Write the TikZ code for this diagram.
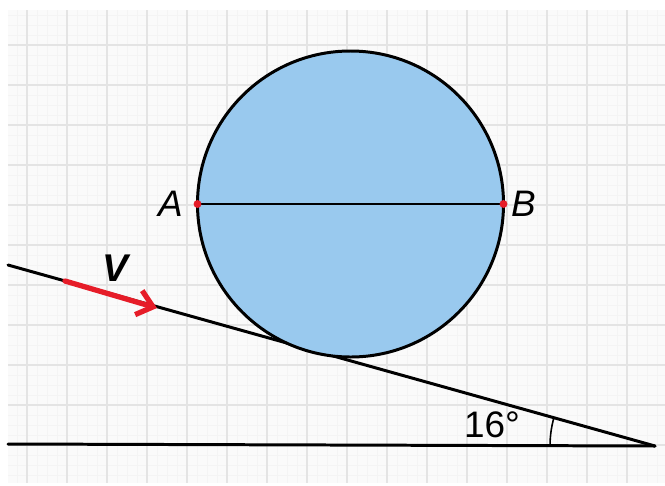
\documentclass[tikz,border=0pt]{standalone}
\usepackage{fontspec}
\setmainfont{Liberation Sans}
\usetikzlibrary{arrows.meta, positioning, calc}
\definecolor{discblue}{RGB}{153,201,238}
\definecolor{vred}{RGB}{230,28,40}
\definecolor{gridmajor}{RGB}{228,228,228}
\definecolor{gridminor}{RGB}{244,244,244}
\definecolor{paper}{RGB}{250,250,250}

\begin{document}
\begin{tikzpicture}[
    x=0.02cm, y=0.02cm,
    line/.style={draw=black, line width=1.7pt, line cap=round},
    disc/.style={draw=black, fill=discblue, line width=1.7pt},
    point/.style={circle, fill=vred, inner sep=0pt, minimum size=4.5pt},
    lbl/.style={font=\fontsize{21}{24}\selectfont\itshape, inner sep=1pt},
    arrow/.style={-{Straight Barb[length=3mm, width=5mm]}, line width=3pt, vred, line cap=round}
]
\useasboundingbox (0,0) rectangle (665,485);

% Paper
\fill[paper] (8,2) rectangle (665,475);
\foreach \x in {17,27,...,657} \draw[gridminor, line width=0.5pt] (\x,2) -- (\x,475);
\foreach \y in {10,20,...,470} \draw[gridminor, line width=0.5pt] (8,\y) -- (665,\y);
\foreach \x in {27,67,...,627} \draw[gridmajor, line width=1pt] (\x,2) -- (\x,475);
\foreach \y in {40,80,...,440} \draw[gridmajor, line width=1pt] (8,\y) -- (665,\y);

% Ground and incline
\coordinate (apex) at (655,39);
\coordinate (base) at (8,41);
\coordinate (top) at (8,220);
\draw[line] (base) -- (apex);
\draw[line] (top) -- (apex);

% Disc
\coordinate (O) at (350.5,281);
\draw[disc] (O) circle[radius=153];
\coordinate (A) at (197.5,281);
\coordinate (B) at (503.5,281);
\draw[line] (A) -- (B);
\node[point] (dotA) at (A) {};
\node[point] (dotB) at (B) {};
\node[lbl, left=0.16cm of dotA] (labA) {A};
\node[lbl, right=0.04cm of dotB] (labB) {B};

% Velocity
\coordinate (vtail) at (65,204);
\coordinate (vtip) at (157,177);
\draw[arrow] (vtail) -- (vtip);
\node[lbl, font=\fontsize{22}{24}\selectfont\bfseries\itshape] (labV) at (115,217) {V};

% Angle
\coordinate (arcstart) at ($(apex)+(-105,0)$);
\draw[line width=0.9pt] (arcstart) arc[start angle=180, end angle=164.4, radius=105];
\node[font=\fontsize{21}{24}\selectfont] (angle) at (492,60) {16°};
\end{tikzpicture}
\end{document}
